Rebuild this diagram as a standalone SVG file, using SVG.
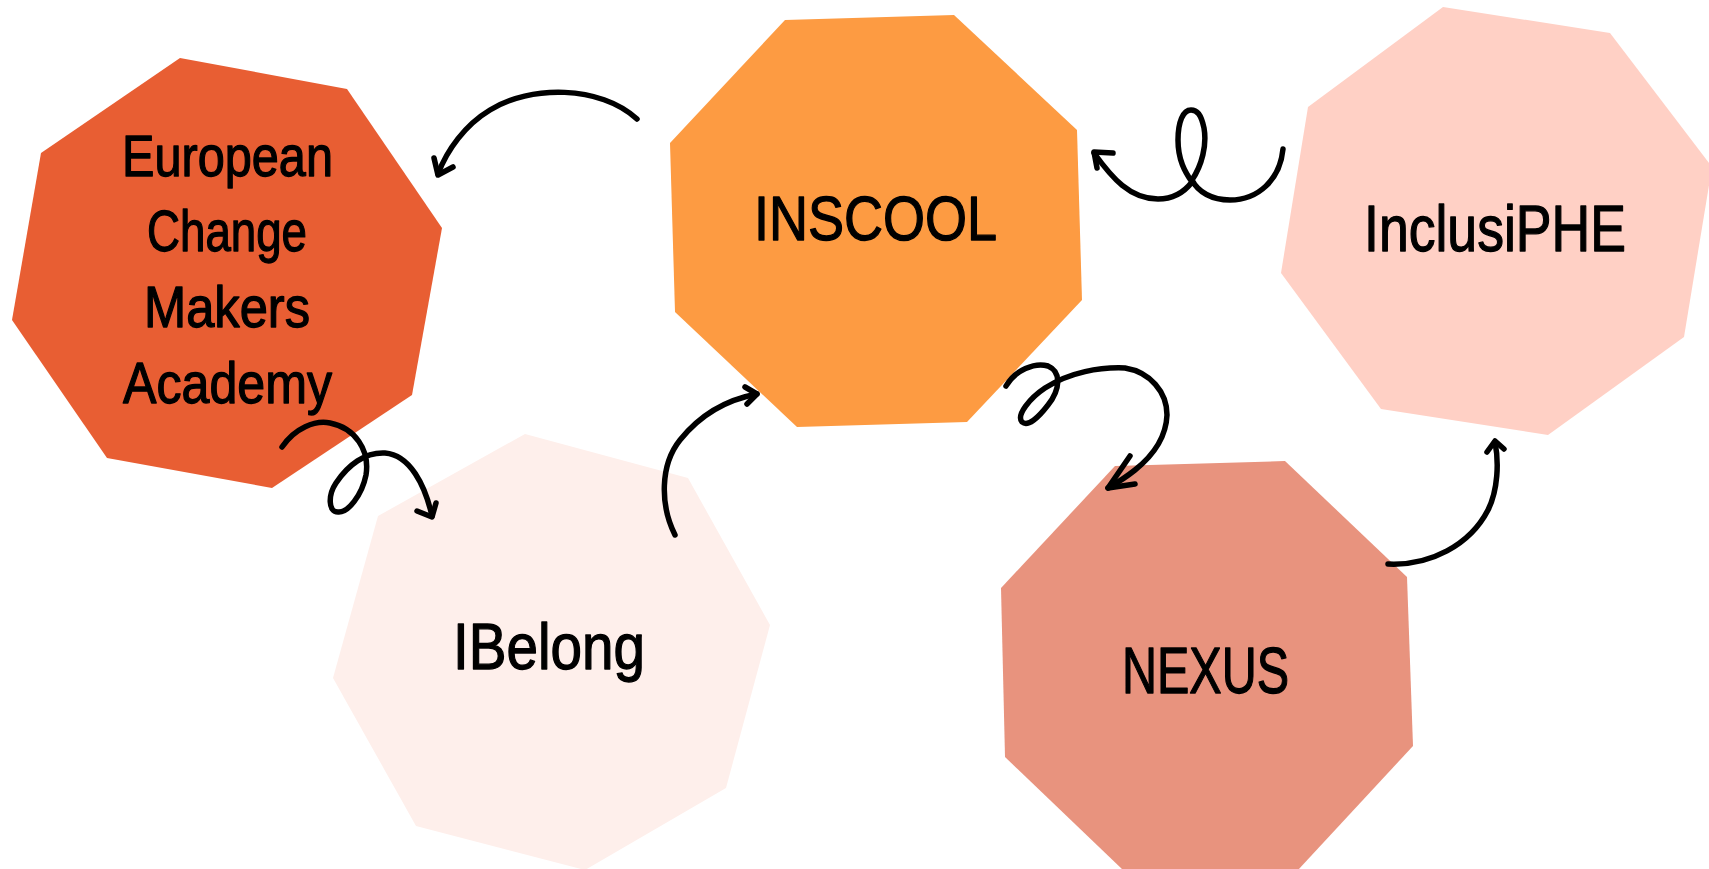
<svg xmlns="http://www.w3.org/2000/svg" width="1709" height="869" viewBox="0 0 1709 869">
<style>
.lbl{font-family:"Liberation Sans","DejaVu Sans",sans-serif;fill:#000;stroke:#000;stroke-width:1.3;stroke-linejoin:round;text-anchor:middle}
.con{fill:none;stroke:#000;stroke-width:5.5;stroke-linecap:round;stroke-linejoin:round}
</style>
<rect width="1709" height="869" fill="#fff"/>
<g id="node-european">
<polygon points="180,58 347,89 442,228 412,395 272,488 107,458 12,320 41,153" fill="#E85E33"/>
<text class="lbl" x="227.5" y="176" font-size="57" textLength="211" lengthAdjust="spacingAndGlyphs">European</text>
<text class="lbl" x="227" y="251" font-size="57" textLength="160" lengthAdjust="spacingAndGlyphs">Change</text>
<text class="lbl" x="227" y="327" font-size="57" textLength="166" lengthAdjust="spacingAndGlyphs">Makers</text>
<text class="lbl" x="227.5" y="403" font-size="57" textLength="209" lengthAdjust="spacingAndGlyphs">Academy</text>
</g>
<g id="node-inscool">
<polygon points="785,20 954,15 1077,130 1082,300 967,422 797,427 675,312 670,143" fill="#FD9B42"/>
<text class="lbl" x="875.5" y="240" font-size="63" textLength="243" lengthAdjust="spacingAndGlyphs">INSCOOL</text>
</g>
<g id="node-inclusiphe">
<polygon points="1443,7 1610,33 1712,167 1684,337 1548,435 1381,409 1281,273 1308,107" fill="#FFD0C5"/>
<text class="lbl" x="1495" y="251" font-size="65" textLength="262" lengthAdjust="spacingAndGlyphs">InclusiPHE</text>
</g>
<g id="node-ibelong">
<polygon points="525,434 688,478 770,625 726,788 585,870 416,826 333,678 378,516" fill="#FEEFEB"/>
<text class="lbl" x="549" y="669" font-size="64" textLength="192" lengthAdjust="spacingAndGlyphs">IBelong</text>
</g>
<g id="node-nexus">
<polygon points="1115,466 1285,461 1407,577 1413,746 1298,870 1123,870 1005,757 1001,588" fill="#E8937E"/>
<text class="lbl" x="1205.5" y="693" font-size="65" textLength="167" lengthAdjust="spacingAndGlyphs">NEXUS</text>
</g>
<g id="connectors">
<path class="con" d="M637,119 C600,85 530,85 490,110 C465,125 447,150 438,174"/>
<path class="con" d="M434,158 L438,175 L453,167"/>
<path class="con" d="M1283,149 C1280,180 1258,200 1230,200 C1212,200 1198,192 1192,180 C1202,165 1207,145 1204,128 C1201,114 1197,110 1191,110 C1183,110 1178,122 1178,140 C1178,160 1185,172 1192,182 C1182,195 1170,199 1158,199 C1130,199 1112,178 1094,153"/>
<path class="con" d="M1113,153 L1094,152 L1097,168"/>
<path class="con" d="M282,447 C295,428 315,420 330,423 C355,428 370,450 366,475 C362,495 348,513 338,512 C328,512 328,495 336,483 C348,465 365,452 385,453 C410,455 425,485 432,516"/>
<path class="con" d="M417,511 L432,517 L436,503"/>
<path class="con" d="M675,535 C660,505 660,465 680,440 C700,415 725,400 757,394"/>
<path class="con" d="M745,387 L757,394 L747,404"/>
<path class="con" d="M1006,386 C1015,370 1035,362 1048,366 C1062,372 1060,390 1048,405 C1038,418 1028,427 1022,422 C1016,415 1030,398 1045,388 C1070,372 1100,367 1125,368 C1150,372 1167,392 1167,415 C1166,440 1150,458 1135,470 C1125,478 1115,484 1108,488"/>
<path class="con" d="M1130,456 L1108,488 L1135,484"/>
<path class="con" d="M1388,564 C1430,566 1470,545 1488,510 C1498,490 1499,462 1495,442"/>
<path class="con" d="M1487,452 L1495,441 L1504,449"/>
</g>
</svg>
